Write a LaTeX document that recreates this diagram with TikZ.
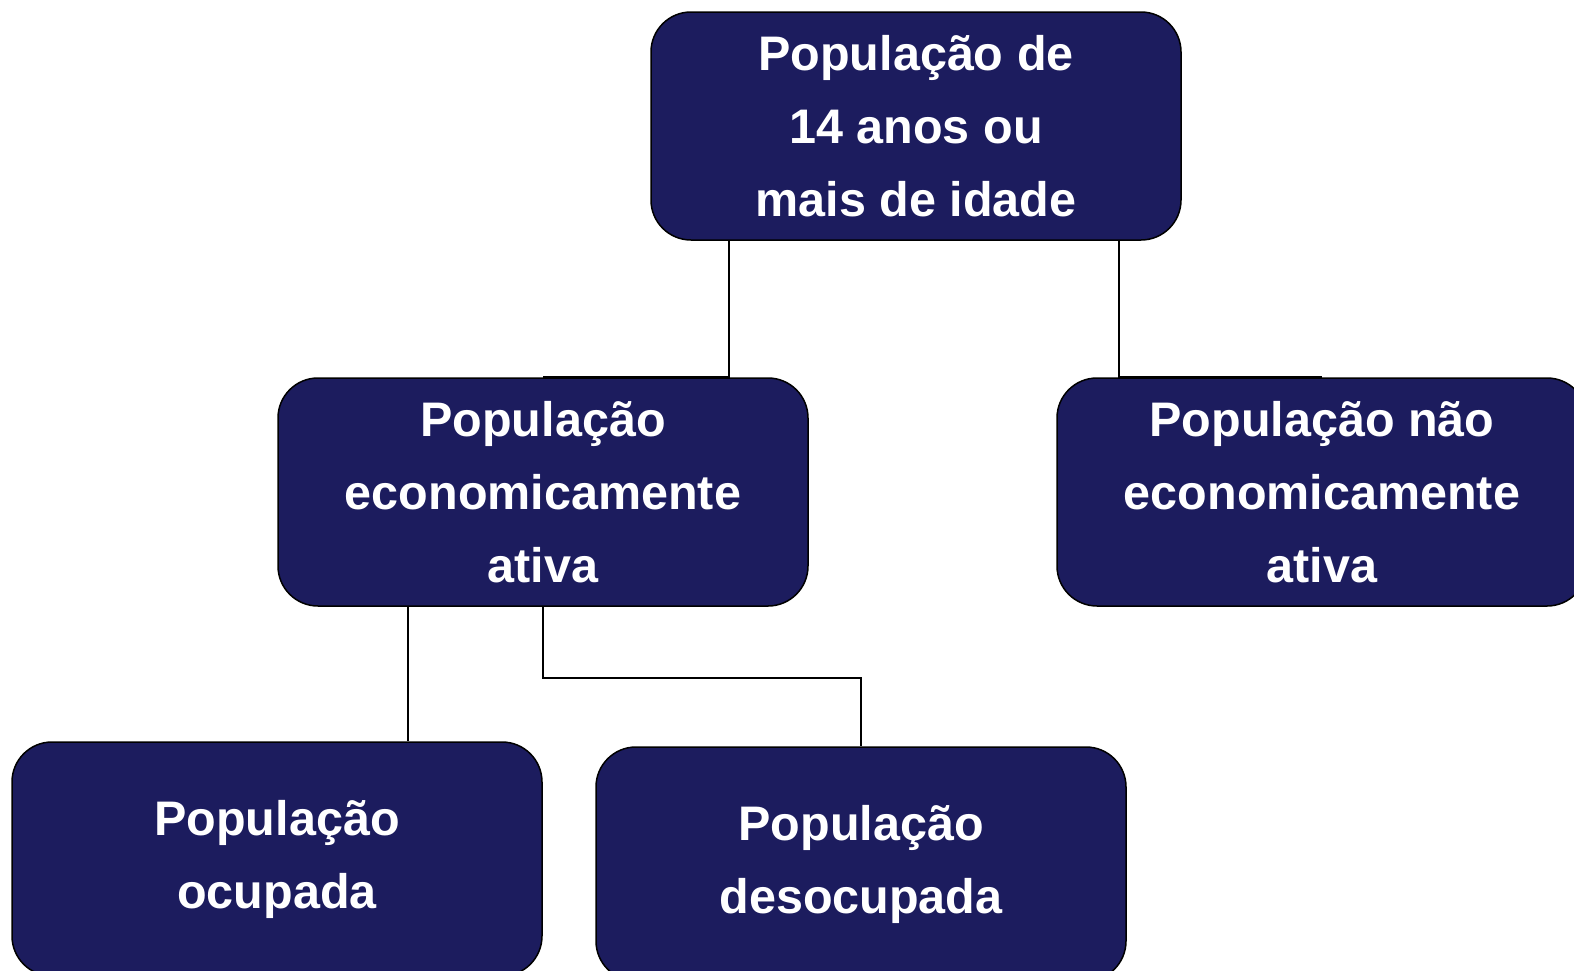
\documentclass[tikz,border=0pt]{standalone}
\usepackage{fontspec}
\setmainfont{Liberation Sans}
\definecolor{navy}{RGB}{28,28,94}
\begin{document}
\begin{tikzpicture}[x=1pt,y=-1pt,
  box/.style={draw=black,line width=1.5pt,fill=navy,text=white,rounded corners=40pt,
    minimum width=530pt,minimum height=228pt,align=center,inner sep=0pt,
    font=\fontsize{48.5}{73}\selectfont\bfseries},
  conn/.style={draw=black,line width=1.8pt}]
\useasboundingbox (0,0) rectangle (1574,970);
\clip (0,0) rectangle (1574,970);
\node[box] (top) at (916,126) {População de\\14 anos ou\\mais de idade};
\node[box] (pea) at (543,492) {População\\economicamente\\ativa};
\node[box] (pnea) at (1322,492) {População não\\economicamente\\ativa};
\node[box,minimum height=234pt] (ocup) at (277,859) {População\\ocupada};
\node[box,minimum height=234pt] (desoc) at (861,864) {População\\desocupada};
\draw[conn] ([xshift=-187pt]top.south) |- (pea.north);
\draw[conn] ([xshift=203pt]top.south) |- (pnea.north);
\draw[conn] ([xshift=-135pt]pea.south) coordinate (a) -- (a |- ocup.north);
\draw[conn] (pea.south) -- ++(0,71) -| (desoc.north);
\end{tikzpicture}
\end{document}
